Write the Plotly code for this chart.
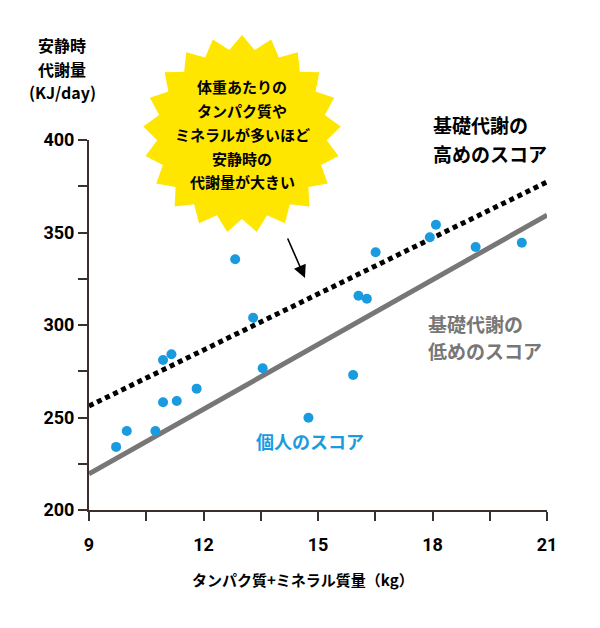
import numpy as np
import plotly.graph_objects as go

# ---- data ----
protein_mineral_kg = [9.71, 9.99, 10.74, 10.94, 11.30, 11.82, 10.94, 11.16, 12.83, 13.30,
                      13.55, 14.75, 15.92, 16.06, 16.28, 16.51, 17.93, 18.09, 19.13, 20.34]
resting_kj = [234.1, 242.7, 242.7, 258.2, 258.9, 265.6, 281.1, 284.2, 335.5, 303.9,
              276.6, 249.9, 273.0, 315.8, 314.2, 339.3, 347.4, 354.2, 342.2, 344.5]
line_x = [9, 21]
high_line_y = [256.2, 377.3]
low_line_y = [219.5, 359.4]

x_tick_vals = [9, 10.5, 12, 13.5, 15, 16.5, 18, 19.5, 21]
x_tick_text = ["9", "", "12", "", "15", "", "18", "", "21"]
y_tick_vals = [200, 225, 250, 275, 300, 325, 350, 375, 400]
y_tick_text = ["200", "", "250", "", "300", "", "350", "", "400"]

bubble_lines = ["体重あたりの", "タンパク質や", "ミネラルが多いほど", "安静時の", "代謝量が大きい"]
high_label = ["基礎代謝の", "高めのスコア"]
low_label = ["基礎代謝の", "低めのスコア"]
dot_label = "個人のスコア"
y_title_lines = ["安静時", "代謝量", "(KJ/day)"]
x_title = "タンパク質+ミネラル質量（kg）"

# ---- layout geometry (pixels) ----
W, H = 600, 628
L, T, PW, PH = 89, 140, 458, 370
def px(x):
    return (x - L) / PW
def py(y):
    return (T + PH - y) / PH

JP = "Noto Sans CJK JP"
AX = "#3a302c"
BLUE = "#1a9be0"
GRAY = "#777777"

fig = go.Figure()
fig.add_trace(go.Scatter(x=line_x, y=low_line_y, mode="lines",
                         line=dict(color=GRAY, width=5), hoverinfo="skip"))
fig.add_trace(go.Scatter(x=line_x, y=high_line_y, mode="lines",
                         line=dict(color="black", width=5, dash="5px,4px"), hoverinfo="skip"))
fig.add_trace(go.Scatter(x=protein_mineral_kg, y=resting_kj, mode="markers",
                         marker=dict(color=BLUE, size=10, line=dict(width=0))))

# starburst
n = 21
cx, cy, R, r = 242, 134, 99, 85
ang = np.pi / 2 + np.arange(2 * n) * np.pi / n
rad = np.where(np.arange(2 * n) % 2 == 0, R, r)
sx = cx + rad * np.cos(ang)
sy = cy - rad * np.sin(ang)
path = "M " + " L ".join(f"{px(a):.5f},{py(b):.5f}" for a, b in zip(sx, sy)) + " Z"
shapes = [dict(type="path", path=path, xref="paper", yref="paper",
               fillcolor="#ffe600", line=dict(width=0), layer="above")]

ann = []
for i, s in enumerate(bubble_lines):
    ann.append(dict(text=s, x=px(242), y=py(87 + i * 23.75), xref="paper", yref="paper",
                    showarrow=False, xanchor="center", yanchor="middle",
                    font=dict(family=JP, size=15, color="black", weight=600)))
for i, s in enumerate(high_label):
    ann.append(dict(text=s, x=px(431), y=py(125 + i * 28), xref="paper", yref="paper",
                    showarrow=False, xanchor="left", yanchor="middle",
                    font=dict(family=JP, size=19, color="black", weight="bold")))
for i, s in enumerate(low_label):
    ann.append(dict(text=s, x=px(426), y=py(323 + i * 27.5), xref="paper", yref="paper",
                    showarrow=False, xanchor="left", yanchor="middle",
                    font=dict(family=JP, size=19, color=GRAY, weight="bold")))
ann.append(dict(text=dot_label, x=px(310), y=py(441), xref="paper", yref="paper",
                showarrow=False, xanchor="center", yanchor="middle",
                font=dict(family=JP, size=18, color=BLUE, weight="bold")))
for i, s in enumerate(y_title_lines):
    ann.append(dict(text=s, x=px(62), y=py(45 + i * 23.5), xref="paper", yref="paper",
                    showarrow=False, xanchor="center", yanchor="middle",
                    font=dict(family=JP, size=16, color="black", weight="bold")))
ann.append(dict(text=x_title, x=px(303), y=py(579), xref="paper", yref="paper",
                showarrow=False, xanchor="center", yanchor="middle",
                font=dict(family=JP, size=15, color="black", weight="bold")))
ann.append(dict(text="", x=px(305), y=py(278), xref="paper", yref="paper",
                showarrow=True, ax=-18, ay=-41, arrowhead=2, arrowsize=1.6,
                arrowwidth=1.6, arrowcolor="black"))

tickfont = dict(family="Roboto", size=18, color="black", weight="bold")
fig.update_layout(
    width=W, height=H, margin=dict(l=L, r=W - L - PW, t=T, b=H - T - PH),
    plot_bgcolor="white", paper_bgcolor="white", showlegend=False,
    shapes=shapes, annotations=ann,
    xaxis=dict(range=[9, 21], tickvals=x_tick_vals, ticktext=x_tick_text,
               showgrid=False, zeroline=False, showline=True, linecolor=AX, linewidth=2,
               ticks="outside", ticklen=9, tickwidth=2, tickcolor=AX,
               tickfont=tickfont, ticklabelstandoff=8),
    yaxis=dict(range=[200, 400], tickvals=y_tick_vals, ticktext=y_tick_text,
               showgrid=False, zeroline=False, showline=True, linecolor=AX, linewidth=2,
               ticks="outside", ticklen=9, tickwidth=2, tickcolor=AX,
               tickfont=tickfont),
)
fig.write_html("out.html")
